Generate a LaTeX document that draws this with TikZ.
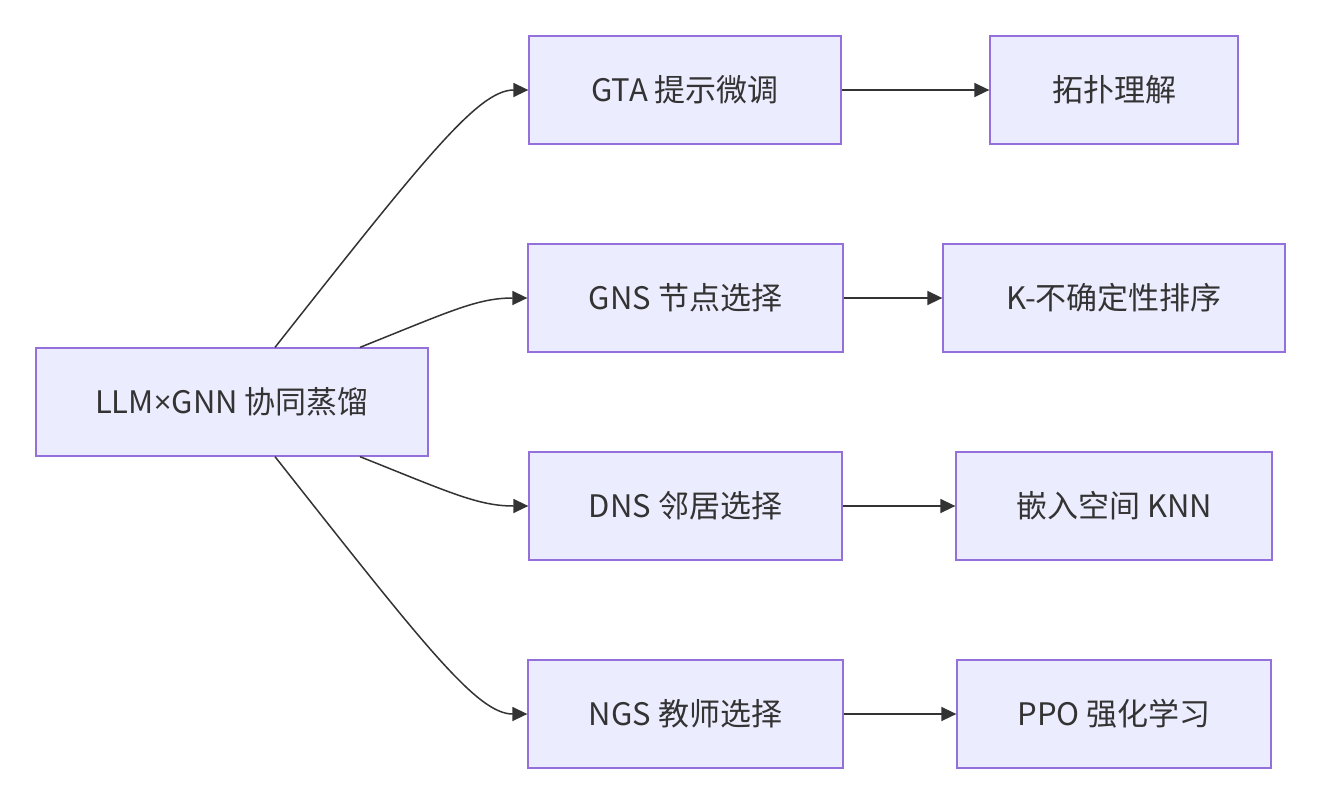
\documentclass[tikz,border=0pt]{standalone}
\usepackage{fontspec}
\setmainfont{Noto Sans CJK SC}
\newfontfamily\latinfont{Open Sans}
\usetikzlibrary{arrows.meta,positioning}
\definecolor{mmFill}{HTML}{ECECFF}
\definecolor{mmLine}{HTML}{9370DB}
\definecolor{mmInk} {HTML}{333333}

\tikzset{
  box/.style={draw=mmLine,fill=mmFill,line width=1.3pt,minimum height=108pt,
    inner sep=0pt,text=mmInk,font=\fontsize{31}{36}\selectfont},
  edge/.style={draw=mmInk,line width=1.5pt,
    -{Triangle[length=15pt,width=14pt]}},
}

\begin{document}
\begin{tikzpicture}[x=1pt,y=-1pt]
    \useasboundingbox (0,0) rectangle (1322,804);

    % source
    \node[box,minimum width=392pt] (src) at (232,402) {LLM{\latinfont ×}GNN 协同蒸馏};

    % middle column
    \node[box,minimum width=312pt] (gta) at (685,90)  {GTA 提示微调};
    \node[box,minimum width=315pt] (gns) at (685.5,298) {GNS 节点选择};
    \node[box,minimum width=313pt] (dns) at (685.5,506) {DNS 邻居选择};
    \node[box,minimum width=315pt] (ngs) at (685.5,714) {NGS 教师选择};

    % right column
    \node[box,minimum width=248pt] (topo) at (1114,90)  {拓扑理解};
    \node[box,minimum width=342pt] (rank) at (1114,298) {K-不确定性排序};
    \node[box,minimum width=316pt] (knn)  at (1114,506) {嵌入空间 KNN};
    \node[box,minimum width=314pt] (ppo)  at (1114,714) {PPO 强化学习};

    % fan out
    \draw[edge] ([xshift=43]src.north) .. controls +(150,-190) and +(-50,0) .. (gta.west);
    \draw[edge] ([xshift=128]src.north) .. controls +(90,-36) and +(-50,0) .. (gns.west);
    \draw[edge] ([xshift=128]src.south) .. controls +(90,36) and +(-50,0) .. (dns.west);
    \draw[edge] ([xshift=43]src.south) .. controls +(150,190) and +(-50,0) .. (ngs.west);

    % straight on
    \draw[edge] (gta) -- (topo);
    \draw[edge] (gns) -- (rank);
    \draw[edge] (dns) -- (knn);
    \draw[edge] (ngs) -- (ppo);
\end{tikzpicture}
\end{document}
